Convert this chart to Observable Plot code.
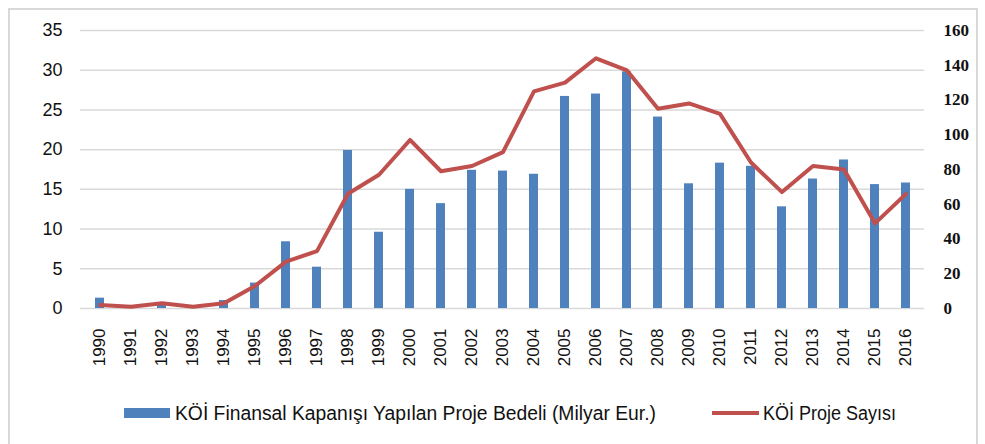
<!DOCTYPE html>
<html>
<head>
<meta charset="utf-8">
<script src="https://cdn.jsdelivr.net/npm/d3@7"></script>
<script src="https://cdn.jsdelivr.net/npm/@observablehq/plot@0.6"></script>
<style>
  html, body { margin: 0; padding: 0; background: #fff; }
  #wrap { position: relative; width: 985px; height: 444px; overflow: hidden; }
  #frame { position: absolute; left: 8px; top: 8px; width: 970px; height: 450px; border: 2px solid #d9d9d9; box-sizing: border-box; }
  #chart { position: absolute; left: 0; top: 0; }
  .leg { position: absolute; top: 400px; height: 26px; font-family: "Liberation Sans", sans-serif; font-size: 20px; color: #111; white-space: nowrap; display: flex; align-items: center; }
  .sw-bar { display: inline-block; width: 46px; height: 10px; background: #4f81bd; margin-right: 5px; }
  .sw-line { display: inline-block; width: 47px; height: 4px; background: #c0504d; margin-right: 4px; }
  #leg1 .txt { display: inline-block; transform: scaleX(0.965); transform-origin: left center; }
  #leg2 .txt { display: inline-block; transform: scaleX(0.9); transform-origin: left center; }
</style>
</head>
<body>
<div id="wrap">
  <div id="frame"></div>
  <div id="chart"></div>
  <div class="leg" id="leg1" style="left:124px"><span class="sw-bar"></span><span class="txt">KÖİ Finansal Kapanışı Yapılan Proje Bedeli (Milyar Eur.)</span></div>
  <div class="leg" id="leg2" style="left:712px"><span class="sw-line"></span><span class="txt">KÖİ Proje Sayısı</span></div>
</div>
<script>
const years = ["1990","1991","1992","1993","1994","1995","1996","1997","1998","1999","2000","2001","2002","2003","2004","2005","2006","2007","2008","2009","2010","2011","2012","2013","2014","2015","2016"];
const bedeli = [1.3, 0, 0.4, 0, 1.0, 3.2, 8.4, 5.2, 19.9, 9.6, 15.0, 13.2, 17.4, 17.3, 16.9, 26.7, 27.0, 29.8, 24.1, 15.7, 18.3, 17.9, 12.8, 16.3, 18.7, 15.6, 15.8];
const sayisi = [2, 1, 3, 1, 3, 13, 27, 33, 66, 77, 97, 79, 82, 90, 125, 130, 144, 137, 115, 118, 112, 84, 67, 82, 80, 49, 66];
const leftTicks = [0, 5, 10, 15, 20, 25, 30, 35];
const rightTicks = [0, 20, 40, 60, 80, 100, 120, 140, 160];

const leftMax = 35, rightMax = 160;
const k = leftMax / rightMax;
const bars = years.map((y, i) => ({year: y, v: bedeli[i]}));
const line = years.map((y, i) => ({year: y, v: sayisi[i] * k}));

const chart = Plot.plot({
  width: 985,
  height: 385,
  marginTop: 30,
  marginBottom: 77,
  marginLeft: 80,
  marginRight: 61,
  x: {type: "band", domain: years, paddingInner: 0.71, paddingOuter: 0.355, axis: null},
  y: {domain: [0, leftMax], axis: null},
  marks: [
    Plot.gridY(leftTicks, {stroke: "#d9d9d9", strokeOpacity: 1, strokeWidth: 1.5}),
    Plot.barY(bars, {x: "year", y: "v", fill: "#4f81bd"}),
    Plot.lineY(line, {x: "year", y: "v", stroke: "#c0504d", strokeWidth: 4, strokeLinejoin: "round"}),
    Plot.axisY(leftTicks, {anchor: "left", label: null, tickSize: 0, tickPadding: 18, fontSize: 18, fontFamily: "Liberation Sans, sans-serif", fill: "#111"}),
    Plot.axisY(rightTicks.map(d => d * k), {anchor: "right", label: null, tickSize: 0, tickPadding: 19, fontSize: 17, fontWeight: "bold", fontFamily: "Liberation Serif, serif", fill: "#111", tickFormat: d => String(Math.round(d / k))}),
    Plot.axisX(years, {anchor: "bottom", label: null, tickSize: 0, tickPadding: 20, tickRotate: -90, fontSize: 17, fontFamily: "Liberation Sans, sans-serif", fill: "#111"})
  ]
});
document.getElementById("chart").appendChild(chart);
</script>
</body>
</html>
